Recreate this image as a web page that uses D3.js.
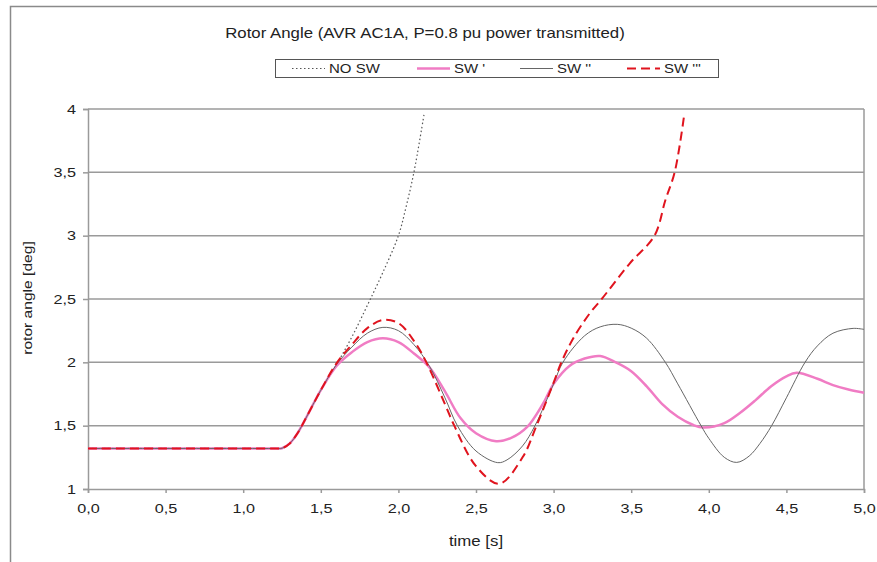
<!DOCTYPE html>
<html lang="en">
<head>
<meta charset="UTF-8">
<title>Rotor Angle</title>
<script src="https://cdn.jsdelivr.net/npm/d3@7"></script>
<style>
  body { margin: 0; background: #fff; }
  text { font-family: "Liberation Sans", Arial, sans-serif; fill: #222; }
</style>
</head>
<body>
<div id="chart"></div>
<script>
// series data (time in s, rotor angle)
const timeNoSw = [0, 0.5, 1.0, 1.2, 1.25, 1.3, 1.35, 1.4, 1.5, 1.6, 1.7, 1.8, 1.9, 2.0, 2.05, 2.1, 2.167]
const noSw     = [1.32, 1.32, 1.32, 1.32, 1.322, 1.36, 1.44, 1.55, 1.78, 1.98, 2.2, 2.45, 2.71, 3.0, 3.23, 3.5, 3.97]

const timeSw1 = [0, 0.5, 1.0, 1.2, 1.25, 1.3, 1.35, 1.4, 1.5, 1.6, 1.7, 1.8, 1.9, 2.0, 2.1, 2.2, 2.3, 2.4, 2.5, 2.63, 2.73, 2.83, 2.93, 3.0, 3.1, 3.2, 3.3, 3.4, 3.5, 3.6, 3.7, 3.8, 3.9, 3.965, 4.1, 4.2, 4.3, 4.4, 4.5, 4.566, 4.7, 4.8, 4.9, 5.0]
const sw1     = [1.32, 1.32, 1.32, 1.32, 1.322, 1.36, 1.44, 1.55, 1.78, 1.97, 2.08, 2.16, 2.19, 2.16, 2.07, 1.96, 1.77, 1.56, 1.44, 1.377, 1.405, 1.49, 1.67, 1.83, 1.97, 2.03, 2.05, 2.0, 1.93, 1.81, 1.67, 1.57, 1.505, 1.485, 1.52, 1.60, 1.70, 1.81, 1.89, 1.917, 1.87, 1.82, 1.785, 1.76]

const timeSw2 = [0, 0.5, 1.0, 1.2, 1.25, 1.3, 1.35, 1.4, 1.5, 1.6, 1.7, 1.8, 1.9, 2.0, 2.1, 2.2, 2.3, 2.38, 2.5, 2.64, 2.7, 2.8, 2.88, 3.0, 3.06, 3.2, 3.3, 3.41, 3.5, 3.6, 3.72, 3.8, 3.95, 4.0, 4.1, 4.18, 4.26, 4.33, 4.405, 4.5, 4.62, 4.7, 4.8, 4.93, 5.0]
const sw2     = [1.32, 1.32, 1.32, 1.32, 1.322, 1.36, 1.44, 1.55, 1.78, 1.98, 2.12, 2.23, 2.276, 2.25, 2.14, 1.97, 1.72, 1.5, 1.30, 1.208, 1.23, 1.34, 1.5, 1.83, 2.0, 2.21, 2.28, 2.30, 2.27, 2.19, 2.0, 1.83, 1.5, 1.40, 1.25, 1.21, 1.26, 1.36, 1.5, 1.72, 2.0, 2.13, 2.23, 2.268, 2.26]

const timeSw3 = [0, 0.5, 1.0, 1.2, 1.25, 1.3, 1.35, 1.4, 1.5, 1.6, 1.7, 1.8, 1.9, 2.0, 2.1, 2.18, 2.3, 2.36, 2.5, 2.65, 2.8, 2.89, 3.0, 3.05, 3.127, 3.235, 3.31, 3.49, 3.65, 3.72, 3.78, 3.84]
const sw3     = [1.32, 1.32, 1.32, 1.32, 1.322, 1.36, 1.44, 1.55, 1.78, 1.99, 2.14, 2.27, 2.334, 2.31, 2.17, 2.0, 1.67, 1.5, 1.18, 1.042, 1.25, 1.5, 1.84, 2.0, 2.19, 2.39, 2.5, 2.78, 3.0, 3.28, 3.5, 3.94]

const xTicks = [0, 0.5, 1, 1.5, 2, 2.5, 3, 3.5, 4, 4.5, 5]
const yTicks = [1, 1.5, 2, 2.5, 3, 3.5, 4]
const seriesNames = ['NO SW', "SW '", "SW ''", "SW '''"]

const W = 877, H = 562
const margin = { top: 109, right: 13, bottom: 73, left: 88 }
const STRETCH = 1.2   // the source picture has wide lettering

const svg = d3.select('#chart').append('svg')
  .attr('width', W)
  .attr('height', H)

// text placed at (px, py), stretched along its own direction
function label(px, py, str, size, anchor, rot) {
  return svg.append('text')
    .attr('transform', `translate(${px}, ${py}) rotate(${rot || 0}) scale(${STRETCH}, 1)`)
    .attr('text-anchor', anchor || 'middle')
    .attr('font-size', size)
    .text(str)
}

// outer frame
svg.append('path')
  .attr('d', `M10.5,${H} V6.5 H${W}`)
  .attr('fill', 'none')
  .attr('stroke', '#8a8a8a')
  .attr('stroke-width', 1.5)

const x = d3.scaleLinear().domain([0, 5]).range([margin.left, W - margin.right])
const y = d3.scaleLinear().domain([1, 4]).range([H - margin.bottom, margin.top])

// gridlines
svg.append('g').selectAll('line')
  .data(yTicks.slice(1))
  .join('line')
  .attr('x1', x(0)).attr('x2', x(5))
  .attr('y1', d => y(d)).attr('y2', d => y(d))
  .attr('stroke', '#9a9a9a')
  .attr('stroke-width', 1.5)

// right border of plot area
svg.append('line')
  .attr('x1', x(5)).attr('x2', x(5))
  .attr('y1', y(4)).attr('y2', y(1))
  .attr('stroke', '#9a9a9a')
  .attr('stroke-width', 1.5)

const fmt = d3.format('.1f')

const xAxis = svg.append('g')
  .attr('transform', `translate(0, ${y(1)})`)
  .call(d3.axisBottom(x).tickValues(xTicks).tickSize(4).tickPadding(10)
    .tickFormat(d => fmt(d).replace('.', ',')))

const yAxis = svg.append('g')
  .attr('transform', `translate(${x(0)}, 0)`)
  .call(d3.axisLeft(y).tickValues(yTicks).tickSize(5).tickPadding(7)
    .tickFormat(d => String(d).replace('.', ',')))

for (const ax of [xAxis, yAxis]) {
  ax.select('.domain').attr('stroke', '#9a9a9a').attr('stroke-width', 1.5)
  ax.selectAll('.tick line').attr('stroke', '#9a9a9a').attr('stroke-width', 1.5)
  ax.selectAll('.tick text')
    .attr('font-size', 13.5)
    .attr('fill', '#333')
    .attr('x', function () { return +d3.select(this).attr('x') / STRETCH })
    .attr('transform', `scale(${STRETCH}, 1)`)
    .style('font-family', '"Liberation Sans", Arial, sans-serif')
}

// lines
const line = d3.line()
  .x(d => x(d[0]))
  .y(d => y(d[1]))
  .curve(d3.curveCatmullRom.alpha(0.5))

const series = [
  { name: seriesNames[0], t: timeNoSw, v: noSw, color: '#555', width: 1.2, dash: '1.5,2.5' },
  { name: seriesNames[1], t: timeSw1, v: sw1, color: '#f07cc4', width: 2.5, dash: null },
  { name: seriesNames[2], t: timeSw2, v: sw2, color: '#666', width: 1, dash: null },
  { name: seriesNames[3], t: timeSw3, v: sw3, color: '#e0141e', width: 2, dash: '9,5' }
]

svg.append('g').selectAll('path')
  .data(series)
  .join('path')
  .attr('d', s => line(s.t.map((t, i) => [t, s.v[i]])))
  .attr('fill', 'none')
  .attr('stroke', s => s.color)
  .attr('stroke-width', s => s.width)
  .attr('stroke-dasharray', s => s.dash)

// titles
label(425, 38, 'Rotor Angle (AVR AC1A, P=0.8 pu power transmitted)', 14)
label(x(2.5), 546, 'time [s]', 14)
label(32, 298, 'rotor angle [deg]', 13, 'middle', -90)

// legend
const legend = svg.append('g')
legend.append('rect')
  .attr('x', 275.5).attr('y', 59.5)
  .attr('width', 443).attr('height', 18)
  .attr('fill', '#fff')
  .attr('stroke', '#555')

const legendX = [292, 417, 520, 627]
const item = legend.selectAll('g.item')
  .data(series)
  .join('g')
  .attr('class', 'item')
  .attr('transform', (d, i) => `translate(${legendX[i]}, 68.5)`)

item.append('line')
  .attr('x1', 0).attr('x2', 33)
  .attr('stroke', d => d.color)
  .attr('stroke-width', d => d.width)
  .attr('stroke-dasharray', d => d.dash)

item.append('text')
  .attr('transform', `translate(37, 4.5) scale(${STRETCH}, 1)`)
  .attr('font-size', 12.5)
  .text(d => d.name)
</script>
</body>
</html>
